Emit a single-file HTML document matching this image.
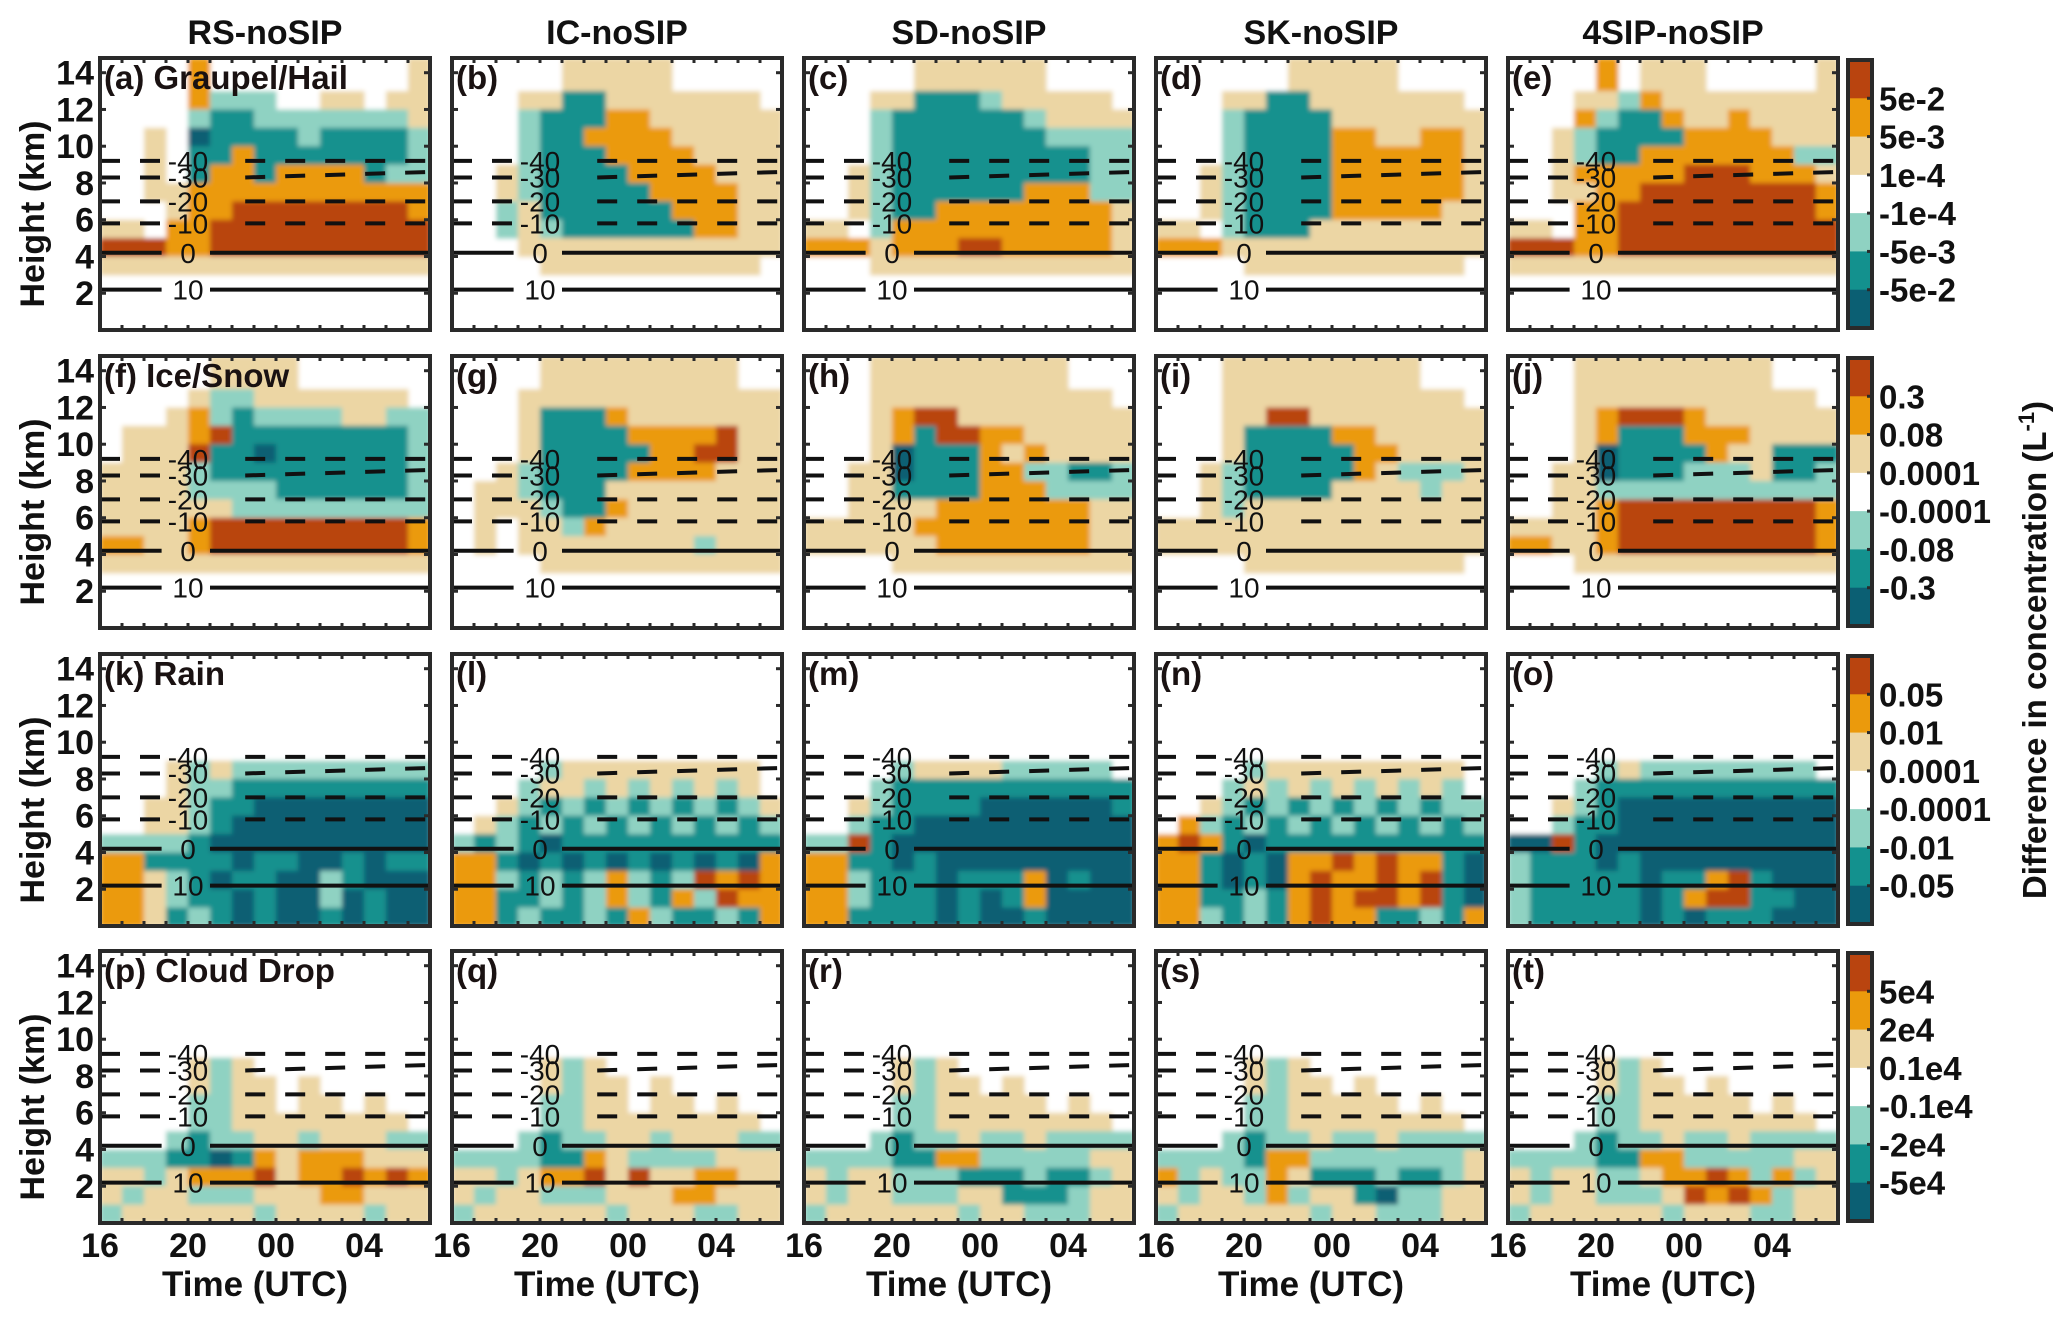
<!DOCTYPE html>
<html><head><meta charset="utf-8">
<style>
html,body{margin:0;padding:0;background:#fff;}
svg{display:block;font-family:"Liberation Sans",Arial,sans-serif;}
</style></head>
<body>
<svg id="fig" width="2067" height="1320" viewBox="0 0 2067 1320" xmlns="http://www.w3.org/2000/svg">
<defs><filter id="soft" x="0" y="0" width="1" height="1"><feGaussianBlur stdDeviation="2.5"/></filter></defs>
</svg>
<script>
// ---- data ----
const columnTitles = ["RS-noSIP","IC-noSIP","SD-noSIP","SK-noSIP","4SIP-noSIP"];
const rowNames = ["Graupel/Hail","Ice/Snow","Rain","Cloud Drop"];
const panelLetters = ["a","b","c","d","e","f","g","h","i","j","k","l","m","n","o","p","q","r","s","t"];
const cbLabels = [
 ["5e-2","5e-3","1e-4","-1e-4","-5e-3","-5e-2"],
 ["0.3","0.08","0.0001","-0.0001","-0.08","-0.3"],
 ["0.05","0.01","0.0001","-0.0001","-0.01","-0.05"],
 ["5e4","2e4","0.1e4","-0.1e4","-2e4","-5e4"]];
const yTicks = [2,4,6,8,10,12,14];
const xTickValues = [16,20,24,28];
const xTickLabels = ["16","20","00","04"];
const isoTemps = [10,0,-10,-20,-30,-40];
const isoHeights = [2.2,4.2,5.8,7.0,8.3,9.2];
// level codes: 0 white,1 tan,2 orange,3 dark red,4 light teal,5 teal,6 dark teal
// each panel: 14 strings, top (13-14 km) to bottom (0-1 km); 15 hourly columns 16..07 UTC
const fields = [
["000020000000001","000024440011011","000045544444441","001065555455554","001055255555554","001052252222544","001122222222222","000122333333332","110223333333333","333223333333333","111111111111111","000000000000000","000000000000000","000000000000000"],
["000001111100000","000115511111110","000455522111111","000455222211111","000455522221111","001455552222111","001455555222211","004155555522211","004145555552211","000111111111111","000011111111110","000000000000000","000000000000000","000000000000000"],
["000001111110000","000115554111110","000455555541111","000455555554444","000455555555544","001455555555544","001455555522244","001455222222221","110422222222221","222122233222221","000111111111111","000000000000000","000000000000000","000000000000000"],
["000000111110000","000115511111110","000455551111111","000455552211221","000455552222221","001455552222221","001455552222221","001455552222211","110455511111111","222111111111111","000011111111110","000000000000000","000000000000000","000000000000000"],
["000020111000001","000114211111111","000245521121111","001455552222111","001455222222244","001222223332221","001122333333332","000223333333332","110223333333333","333223333333333","111111111111111","000000000000000","000000000000000","000000000000000"],
["000001111000000","000014411111110","000124544441144","011123555555554","011135565555554","111145555555554","111144445555554","111111444444444","111123333333332","221123333333332","111111111111111","000000000000000","000000000000000","000000000000000"],
["000011111111100","000111111111111","000155521111111","000155552222311","000155555223311","001455552222111","011455511111111","011145521111111","010114211111111","010111111114111","000011111111111","000000000000000","000000000000000","000000000000000"],
["000111111111000","000111111111110","000123311111111","000125332211111","000165552121111","001165552244554","001155552224444","001111222222211","111112222222211","111111222222211","000011111111111","000000000000000","000000000000000","000000000000000"],
["000111111111000","000111111111110","000113311111111","000155552211111","000155555221111","001455555214441","001455551111411","001411111111111","111111111111111","111111111111111","000011111111110","000000000000000","000000000000000","000000000000000"],
["000111111111000","000111111111110","000123332111111","000125552221111","000165555211555","001165554441554","001144444444444","001123333333332","111123333333332","221123333333332","000111111111111","000000000000000","000000000000000","000000000000000"],
["000000000000000","000000000000000","000000000000000","000000000000000","000000000000000","000141444444444","000144555555555","001145566666666","001145666666666","444456666666666","225555655665655","221456556645666","221455656646566","221545656656566"],
["000000000000000","000000000000000","000000000000000","000000000000000","000000000000000","000041111111110","000411414141410","001454545454541","014545454545454","454565555555555","225656565656562","224545424543232","225545424524322","225455452455452"],
["000000000000000","000000000000000","000000000000000","000000000000000","000000000000000","000041111444440","000455555555555","001455556666665","004556666666666","443566666666666","225565666666666","224555655526566","224555656526666","225555656656666"],
["000000000000000","000000000000000","000000000000000","000000000000000","000000000000000","000041111111110","000414141414140","001454545454544","024545454545454","232565555555555","225656223232256","225656232232356","225545232332356","224545232255452"],
["000000000000000","000000000000000","000000000000000","000000000000000","000000000000000","000041444444440","000455555555555","001456666666666","004556666666666","663566666666666","455565666666666","455555655235666","455555652335566","455555656555666"],
["000000000000000","000000000000000","000000000000000","000000000000000","000000000000000","000014100000000","000014110100000","000044110110100","000044111111110","000454411411144","444556521222111","114122231223232","141144411122111","411111141111411"],
["000000000000000","000000000000000","000000000000000","000000000000000","000000000000000","000014100000000","000014110100000","000044110110100","000044111111110","000454411411144","444455214444111","114122313112211","141144411122111","411111141114411"],
["000000000000000","000000000000000","000000000000000","000000000000000","000000000000000","000014100000000","000014110100000","000044111110100","000044111111110","000454414414444","444455224444411","141144455545541","141144411555411","411111141144411"],
["000000000000000","000000000000000","000000000000000","000000000000000","000000000000000","000014100000000","000014110100000","000044111110100","000044111111110","000454414414444","444452244444441","241442155545541","141142411564411","411111141144411"],
["000000000000000","000000000000000","000000000000000","000000000000000","000000000000000","000014100000000","000014110100000","000044111110100","000044111111110","000454414414444","444455224444411","141144122324241","141144413232411","411111141114411"]
];
// ---- rendering ----
const NS="http://www.w3.org/2000/svg";
const svg=document.getElementById('fig');
const palette=["#ffffff","#ecd6a4","#eb9a0c","#b9440f","#8fd2c2","#13918e","#0b5f73"];
const colX=[100,452,804,1156,1508], rowY=[58,356,654,951], PW=330, PH=272;
const T0=16,T1=31,HMAX=14.8;
function mk(tag,attrs,parent){const e=document.createElementNS(NS,tag);for(const k in attrs)e.setAttribute(k,attrs[k]);(parent||svg).appendChild(e);return e;}
function txt(s,attrs,parent){const e=mk('text',attrs,parent);e.textContent=s;return e;}

columnTitles.forEach((t,c)=>{
  const e=txt(t,{x:colX[c]+PW/2,y:44,'text-anchor':'middle','font-size':34,'font-weight':'bold',fill:'#111'});
  
  
});

for(let r=0;r<4;r++){
  for(let c=0;c<5;c++){
    const idx=r*5+c, x0=colX[c], y0=rowY[r];
    const xs=t=>x0+(t-T0)/(T1-T0)*PW;
    const ys=h=>y0+PH-h/HMAX*PH;
    const g=mk('g',{});
    
    
    const cells=mk('g',{filter:'url(#soft)'},g);
    
    
    mk('rect',{x:x0,y:y0,width:PW,height:PH,fill:'#fff'},cells);
    const f=fields[idx];
    for(let k=0;k<14;k++){
      const row=f[k]; const hTop=(k===0)?HMAX:14-k; const hBot=13-k;
      for(let i=0;i<15;i++){
        const lv=+row[i]; if(lv===0)continue;
        const cell=mk('rect',{x:xs(T0+i),y:ys(hTop),width:xs(T0+i+1)-xs(T0+i)+0.6,height:ys(hBot)-ys(hTop)+0.6,fill:palette[lv]},cells);
        
        
      }
    }
    isoTemps.forEach((T,j)=>{
      const h=isoHeights[j], y=ys(h), dashed=T<0;
      const st={stroke:'#111','stroke-width':4,fill:'none'};
      if(dashed)st['stroke-dasharray']='20 20';
      const yR = T===-30? ys(h+0.3):y;
      const l1=mk('line',Object.assign({x1:xs(16),y1:y,x2:xs(18.8),y2:y},st),g);
      
      
      const l2=mk('line',Object.assign({x1:xs(T>=0?21.0:22.6),y1:y,x2:xs(31),y2:yR},st),g);
      
      
      const lb=txt(String(T),{x:xs(20.0),y:y+10,'text-anchor':'middle','font-size':28,fill:'#111'},g);
      
      
    });
    const fr=mk('rect',{x:x0,y:y0,width:PW,height:PH,fill:'none',stroke:'#2a2a2a','stroke-width':4},g);
    
    
    for(let t=17;t<31;t++){
      mk('line',{x1:xs(t),y1:y0+PH,x2:xs(t),y2:y0+PH-5,stroke:'#2a2a2a','stroke-width':3},g);
      mk('line',{x1:xs(t),y1:y0,x2:xs(t),y2:y0+5,stroke:'#2a2a2a','stroke-width':3},g);
    }
    yTicks.forEach(h=>{
      mk('line',{x1:x0,y1:ys(h),x2:x0+6,y2:ys(h),stroke:'#2a2a2a','stroke-width':3},g);
      mk('line',{x1:x0+PW,y1:ys(h),x2:x0+PW-6,y2:ys(h),stroke:'#2a2a2a','stroke-width':3},g);
    });
    const pl=txt('('+panelLetters[idx]+')'+(c===0?' '+rowNames[r]:''),{x:x0+4,y:y0+31,'font-size':33,'font-weight':'bold',fill:'#1a1212'},g);
    
    
    if(c===0){
      yTicks.forEach(h=>{
        const e=txt(String(h),{x:x0-6,y:ys(h)+12,'text-anchor':'end','font-size':34,'font-weight':'bold',fill:'#111'});
        
        
      });
      const yl=txt('Height (km)',{x:0,y:0,'text-anchor':'middle','font-size':34,'font-weight':'bold',fill:'#111',transform:`translate(44,${y0+PH/2+20}) rotate(-90)`});
      
      
    }
    if(r===3){
      xTickValues.forEach((t,j)=>{
        const e=txt(xTickLabels[j],{x:xs(t),y:1257,'text-anchor':'middle','font-size':34,'font-weight':'bold',fill:'#111'});
        
        
      });
      const xl=txt('Time (UTC)',{x:x0+PW/2-10,y:1296,'text-anchor':'middle','font-size':35,'font-weight':'bold',fill:'#111'});
      
      
    }
  }
  const cx=1848, cw=24, cy=rowY[r]+2, ch=PH-4, n=7, sh=ch/n;
  const cb=mk('g',{});
  
  
  const order=[3,2,1,0,4,5,6];
  order.forEach((lv,i)=>{
    mk('rect',{x:cx,y:cy+i*sh,width:cw,height:sh+0.5,fill:palette[lv]},cb);
  });
  mk('rect',{x:cx,y:cy,width:cw,height:ch,fill:'none',stroke:'#2a2a2a','stroke-width':4},cb);
  cbLabels[r].forEach((s,i)=>{
    const yy=cy+(i+1)*sh;
    mk('line',{x1:cx+cw-5,y1:yy,x2:cx+cw,y2:yy,stroke:'#2a2a2a','stroke-width':3},cb);
    const e=txt(s,{x:cx+cw+7,y:yy+12,'font-size':33,'font-weight':'bold',fill:'#111'},cb);
    
    
  });
}
const side=txt('Difference in concentration (L',{x:0,y:0,'text-anchor':'middle','font-size':33,'font-weight':'bold',fill:'#111',transform:'translate(2046,650) rotate(-90)'});


const sup=document.createElementNS(NS,'tspan');sup.setAttribute('dy','-12');sup.setAttribute('font-size','22');sup.textContent='-1';side.appendChild(sup);
const cl=document.createElementNS(NS,'tspan');cl.setAttribute('dy','12');cl.textContent=')';side.appendChild(cl);
</script>
</body></html>
